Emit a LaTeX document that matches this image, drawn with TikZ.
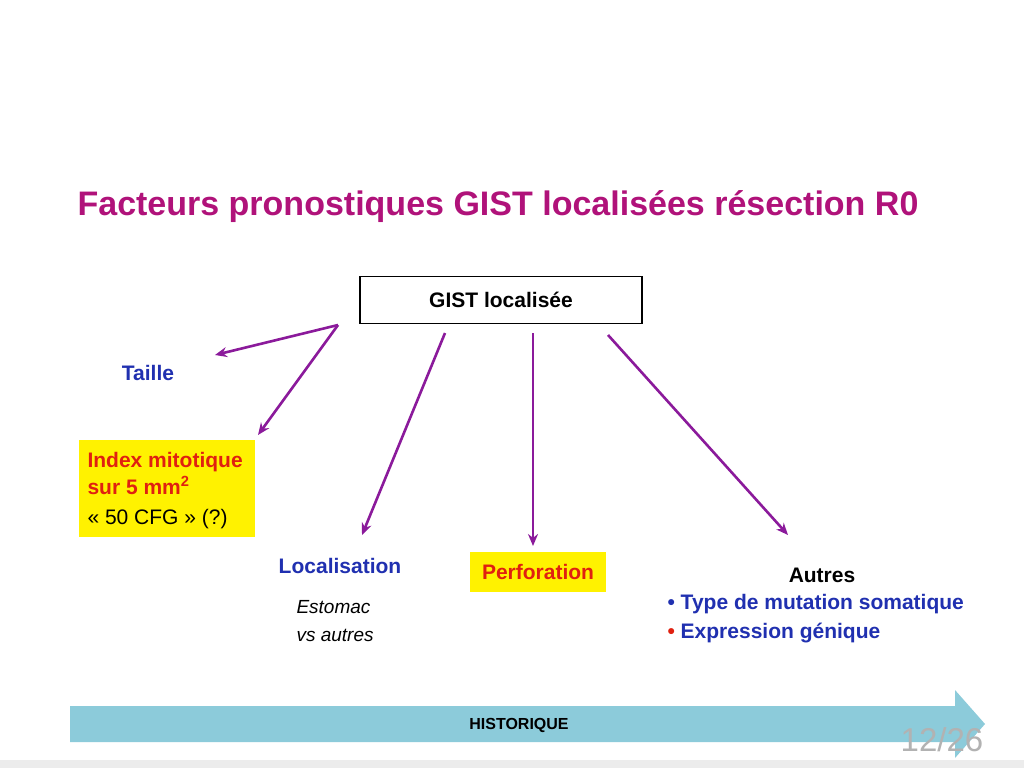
\documentclass[tikz,border=0pt]{standalone}
\usepackage{fontspec}
\setmainfont{Liberation Sans}
\begin{document}
\begin{tikzpicture}[x=1pt,y=-1pt,
 arr/.style={draw=arrc,line width=2.6pt,-{Stealth[length=12pt,width=10pt]}},
 blue/.style={text=txtblue,font=\bfseries\fontsize{21}{25}\selectfont}]
\definecolor{mag}{HTML}{B0127A}
\definecolor{arrc}{HTML}{8B1A9B}
\definecolor{txtblue}{HTML}{2030B0}
\definecolor{txtred}{HTML}{E02010}
\definecolor{barc}{HTML}{8CCBDA}
\usetikzlibrary{arrows.meta}
\useasboundingbox (0,0) rectangle (1024,768);
\fill[white] (0,0) rectangle (1024,768);
\fill[gray!15] (0,760) rectangle (1024,768);
\node[text=mag,font=\bfseries\fontsize{34}{40}\selectfont] (title) at (498,207) {Facteurs pronostiques GIST localisées résection R0};
\node[draw,line width=1.3pt,minimum width=282pt,minimum height=47pt,font=\bfseries\fontsize{21}{25}\selectfont] (gist) at (501,300) {GIST localisée};
\coordinate (g1) at (338,325);
\coordinate (g2) at (445,333);
\coordinate (g3) at (533,333);
\coordinate (g4) at (608,335);
\node[blue] (taille) at (148,373) {Taille};
\node[fill=yellow,minimum width=176pt,minimum height=97pt] (idx) at (167,488) {};
\node[anchor=west,align=left,font=\bfseries\fontsize{21}{27}\selectfont,text=txtred] (idxt) at (84,473) {Index mitotique\\sur 5 mm\textsuperscript{2}};
\node[anchor=west,font=\fontsize{21}{25}\selectfont] (cfg) at (84,519) {« 50 CFG » (?)};
\node[blue] (loc) at (340,566) {Localisation};
\node[anchor=west,align=left,font=\itshape\fontsize{19}{28}\selectfont] (est) at (293,621) {Estomac\\vs autres};
\node[fill=yellow,minimum width=136pt,minimum height=40pt,text=txtred,font=\bfseries\fontsize{21}{25}\selectfont] (perf) at (538,572) {Perforation};
\node[font=\bfseries\fontsize{21}{25}\selectfont] (autres) at (822,575) {Autres};
\node[anchor=west,blue] (b1) at (664,604) {\textcolor{txtblue}{•} Type de mutation somatique};
\node[anchor=west,blue] (b2) at (664,633) {\textcolor{txtred}{•} Expression génique};
\draw[arr] (g1) -- (215,355);
\draw[arr] (g1) -- (258,435);
\draw[arr] (g2) -- (362,535);
\draw[arr] (g3) -- (533,546);
\draw[arr] (g4) -- (788,535);
\fill[barc] (70,706) -- (955,706) -- (955,690) -- (985,724) -- (955,758) -- (955,742) -- (70,742) -- cycle;
\node[font=\bfseries\fontsize{16}{19}\selectfont] (hist) at (519,725) {HISTORIQUE};
\node[text=gray!60,font=\fontsize{33}{38}\selectfont] (pg) at (942,740) {12/26};
\end{tikzpicture}
\end{document}
